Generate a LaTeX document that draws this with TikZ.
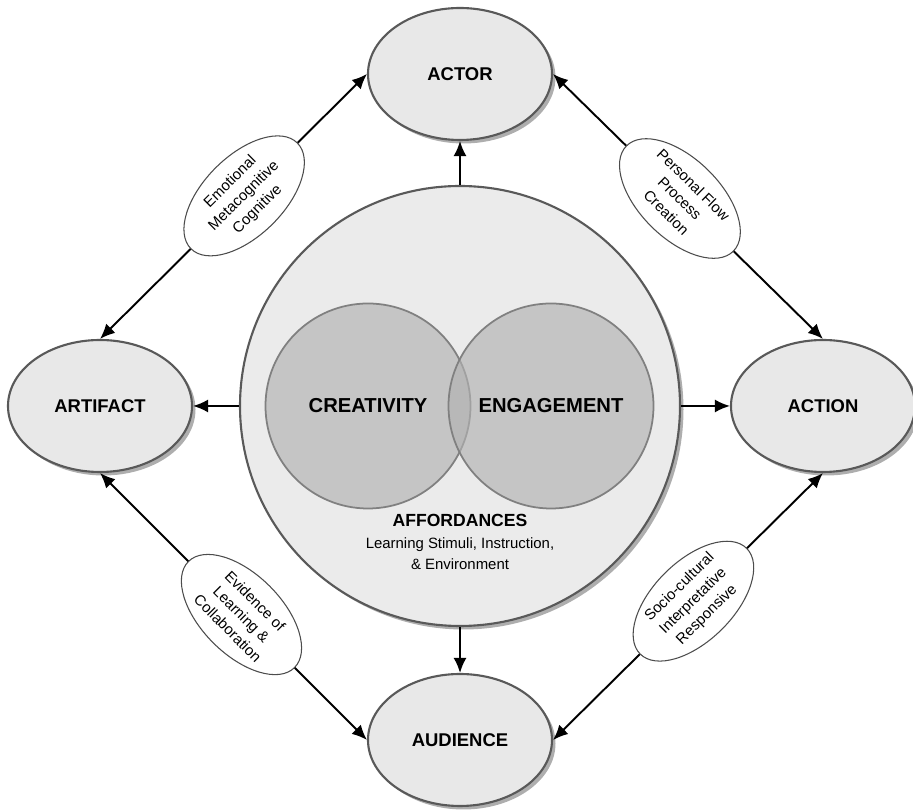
\documentclass[tikz,border=0pt]{standalone}
\usepackage{fontspec}
\setmainfont{Liberation Sans}
\usetikzlibrary{shapes.geometric,arrows.meta,shadows}

\begin{document}
\begin{tikzpicture}[
    shade/.style={drop shadow={shadow xshift=.07cm,shadow yshift=-.07cm,fill=black!45,opacity=.7}},
    main/.style={ellipse,draw=black!65,line width=1.2pt,fill=black!9,shade,minimum width=3.68cm,minimum height=2.64cm,inner sep=0pt,font=\fontsize{10.5}{12}\selectfont\bfseries},
    ring/.style={circle,draw=black!50,line width=1pt,fill=black!30,fill opacity=.65,text opacity=1,minimum size=4.1cm,inner sep=0pt,font=\fontsize{11.5}{13}\selectfont\bfseries},
    note/.style={ellipse,draw=black!70,line width=.6pt,fill=white,minimum width=3cm,minimum height=1.6cm,inner sep=0pt,align=center,font=\fontsize{8.5}{11}\selectfont},
    conn/.style={line width=1.1pt,>={Latex[length=3mm,width=2.6mm]}}]
  \useasboundingbox (0,0) rectangle (18.26,16.22);
  \node (affordances) at (9.2,8.1) [circle,draw=black!65,line width=1.2pt,fill=black!8,shade,minimum size=8.8cm] {};
  \node (creativity) at (7.36,8.1) [ring] {CREATIVITY};
  \node (engagement) at (11.02,8.1) [ring] {ENGAGEMENT};
  \node (aff-text) at (9.2,5.38) [align=center] {{\fontsize{10}{12}\selectfont\bfseries AFFORDANCES}\\
    {\fontsize{8.5}{10}\selectfont Learning Stimuli, Instruction,}\\
    {\fontsize{8.5}{10}\selectfont \& Environment}};
  \node (actor)    at (9.2,14.74) [main] {ACTOR};
  \node (artifact) at (2.0,8.1)   [main] {ARTIFACT};
  \node (action)   at (16.46,8.1) [main] {ACTION};
  \node (audience) at (9.2,1.42)  [main] {AUDIENCE};
  \draw [conn,->] (affordances) -- (actor);
  \draw [conn,->] (affordances) -- (artifact);
  \draw [conn,->] (affordances) -- (action);
  \draw [conn,->] (affordances) -- (audience);
  \draw [conn,<->] (artifact.north) -- node (feeling) [note,sloped,pos=.54] {Emotional\\Metacognitive\\Cognitive} (actor.west);
  \draw [conn,<->] (actor.east) -- node (flow) [note,sloped,pos=.47] {Personal Flow\\Process\\Creation} (action.north);
  \draw [conn,<->] (artifact.south) -- node (evidence) [note,sloped,pos=.53] {Evidence of\\Learning \&\\Collaboration} (audience.west);
  \draw [conn,<->] (audience.east) -- node (response) [note,sloped,pos=.52] {Socio-cultural\\Interpretative\\Responsive} (action.south);
\end{tikzpicture}
\end{document}
